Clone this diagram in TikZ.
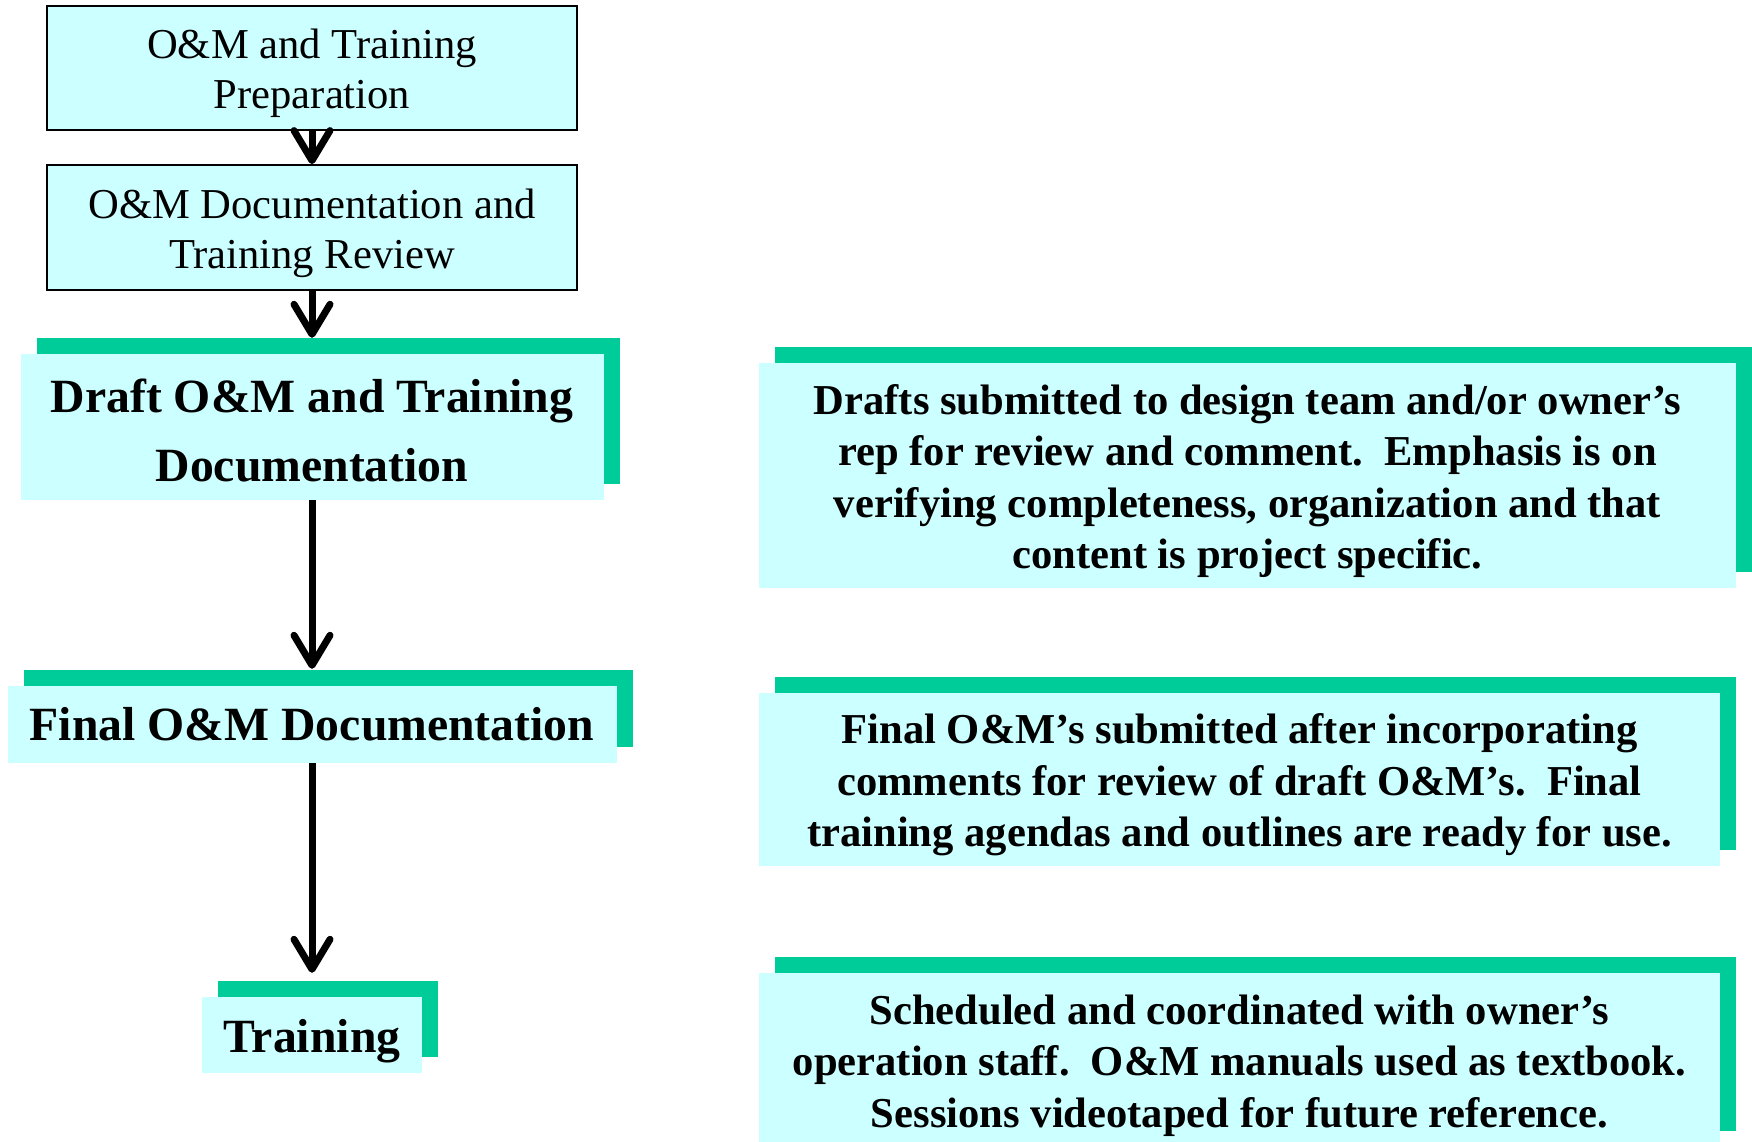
\documentclass[tikz,border=0pt]{standalone}
\usepackage{fontspec}
\setmainfont{Liberation Serif}
\usetikzlibrary{arrows.meta,shadows}
\definecolor{boxcyan}{HTML}{CCFFFF}
\definecolor{boxgreen}{HTML}{00CC99}
\newcommand\lowfirst[1]{\rule{0pt}{#1}}
\begin{document}
\begin{tikzpicture}[x=1pt,y=-1pt,
  plainbox/.style={draw=black, line width=1.8pt, fill=boxcyan, inner sep=0pt, align=center,
    font=\fontsize{42.6}{50}\selectfont},
  shadowbox/.style={fill=boxcyan, inner sep=0pt, align=center,
    general shadow={fill=boxgreen, shadow xshift=16pt, shadow yshift=16pt}},
  titlebox/.style={shadowbox, font=\fontsize{47.7}{69}\selectfont\bfseries},
  notebox/.style={shadowbox, font=\fontsize{42.6}{51.5}\selectfont\bfseries},
  flow/.style={line width=7pt, -{Straight Barb[length=30pt,width=36pt,line cap=round,line join=round]}}
]
\useasboundingbox (0,0) rectangle (1752,1142);
\fill[white] (0,0) rectangle (1752,1142);
\clip (0,0) rectangle (1752,1142);

% left column
\node[plainbox, minimum width=530pt, minimum height=124pt] (prep) at (312,68)
  {\lowfirst{41pt}O\&M and Training\\Preparation};
\node[plainbox, minimum width=530pt, minimum height=125pt] (review) at (312,227.5)
  {\lowfirst{41pt}O\&M Documentation and\\Training Review};
\node[titlebox, minimum width=583pt, minimum height=146pt] (draft) at (312,427)
  {\lowfirst{40pt}Draft O\&M and Training\\Documentation};
\node[titlebox, minimum width=609pt, minimum height=77pt] (final) at (312,724.5)
  {Final O\&M Documentation};
\node[titlebox, minimum width=220pt, minimum height=76pt] (train) at (312,1035)
  {\lowfirst{46pt}Training};

% right column
\node[notebox, minimum width=977pt, minimum height=225pt] (n1) at (1247.5,475.5)
  {\lowfirst{41pt}Drafts submitted to design team and/or owner’s\\rep for review and comment.\ \ Emphasis is on\\verifying completeness, organization and that\\content is project specific.};
\node[notebox, minimum width=961pt, minimum height=173pt] (n2) at (1239.5,779.5)
  {\lowfirst{41pt}Final O\&M’s submitted after incorporating\\comments for review of draft O\&M’s.\ \ Final\\training agendas and outlines are ready for use.};
\node[notebox, minimum width=961pt, minimum height=174pt] (n3) at (1239.5,1060)
  {\lowfirst{41pt}Scheduled and coordinated with owner’s\\operation staff.\ \ O\&M manuals used as textbook.\\Sessions videotaped for future reference.};

% connectors
\draw[flow] (prep.south) -- (review.north);
\draw[flow] (review.south) -- ([yshift=16pt]draft.north);
\draw[flow] (draft.south) -- ([yshift=17pt]final.north);
\draw[flow] (final.south) -- ([yshift=24pt]train.north);
\end{tikzpicture}
\end{document}
